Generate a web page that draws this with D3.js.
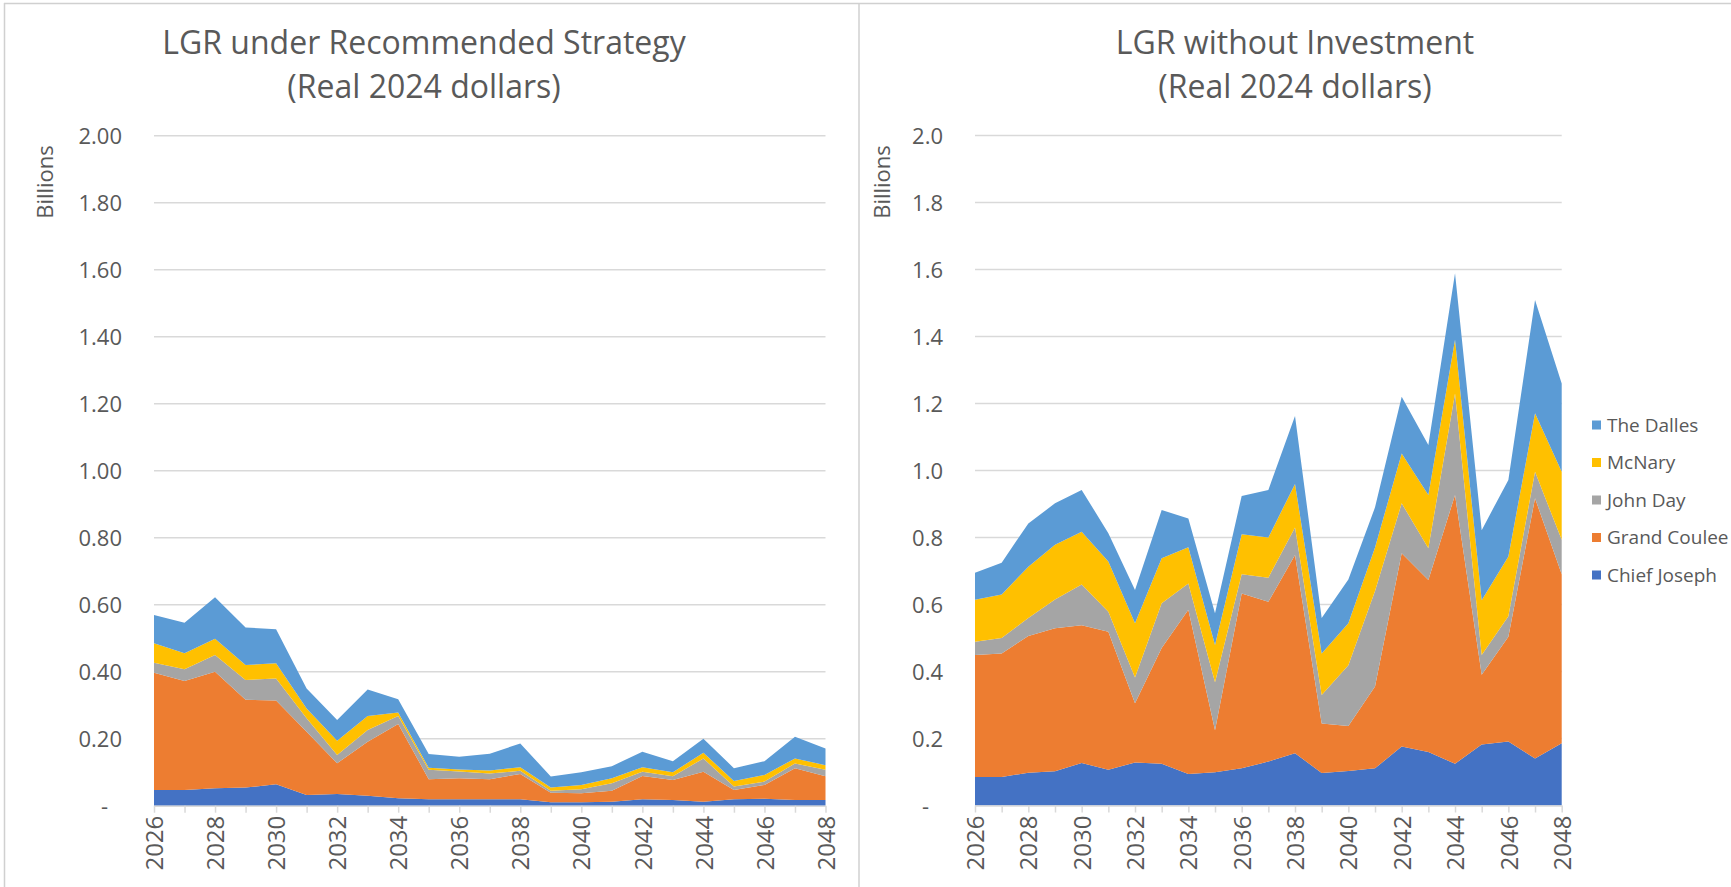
<!DOCTYPE html>
<html>
<head>
<meta charset="utf-8">
<script src="https://cdn.jsdelivr.net/npm/d3@7/dist/d3.min.js"></script>
<style>
  body { margin: 0; background: #fff; }
  svg { display: block; }
  text { font-family: "Open Sans", "Noto Sans", sans-serif; fill: #595959; }
</style>
</head>
<body>
<svg id="chart" width="1731" height="887"></svg>
<script>
// ---- Data (billions of real 2024 dollars) ----
const years = [2026, 2027, 2028, 2029, 2030, 2031, 2032, 2033, 2034, 2035, 2036, 2037,
               2038, 2039, 2040, 2041, 2042, 2043, 2044, 2045, 2046, 2047, 2048];
const yearLabels = ["2026", "2028", "2030", "2032", "2034", "2036", "2038", "2040", "2042", "2044", "2046", "2048"];

const seriesNames = ["Chief Joseph", "Grand Coulee", "John Day", "McNary", "The Dalles"];
const seriesColors = ["#4472C4", "#ED7D31", "#A5A5A5", "#FFC000", "#5B9BD5"];

// LGR under Recommended Strategy
const recChiefJoseph = [0.047, 0.047, 0.052, 0.054, 0.064, 0.032, 0.035, 0.030, 0.022, 0.019, 0.019, 0.019,
                        0.019, 0.010, 0.010, 0.012, 0.019, 0.017, 0.012, 0.019, 0.021, 0.017, 0.017];
const recGrandCoulee = [0.350, 0.325, 0.348, 0.262, 0.250, 0.189, 0.092, 0.161, 0.222, 0.060, 0.063, 0.060,
                        0.076, 0.029, 0.027, 0.033, 0.070, 0.060, 0.089, 0.028, 0.041, 0.095, 0.071];
const recJohnDay     = [0.030, 0.035, 0.050, 0.059, 0.066, 0.040, 0.024, 0.035, 0.024, 0.028, 0.020, 0.017,
                        0.009, 0.006, 0.012, 0.022, 0.012, 0.011, 0.040, 0.010, 0.010, 0.014, 0.019];
const recMcNary      = [0.058, 0.048, 0.048, 0.045, 0.045, 0.029, 0.043, 0.042, 0.010, 0.006, 0.006, 0.009,
                        0.011, 0.009, 0.013, 0.015, 0.014, 0.012, 0.017, 0.017, 0.020, 0.015, 0.014];
const recTheDalles   = [0.084, 0.091, 0.124, 0.112, 0.102, 0.060, 0.062, 0.079, 0.040, 0.041, 0.038, 0.050,
                        0.071, 0.033, 0.038, 0.036, 0.046, 0.033, 0.042, 0.038, 0.041, 0.065, 0.050];

// LGR without Investment
const noInvChiefJoseph = [0.085, 0.085, 0.098, 0.102, 0.127, 0.107, 0.128, 0.125, 0.094, 0.099, 0.111, 0.131,
                          0.156, 0.097, 0.103, 0.111, 0.176, 0.160, 0.125, 0.182, 0.191, 0.140, 0.186];
const noInvGrandCoulee = [0.364, 0.369, 0.408, 0.427, 0.411, 0.412, 0.177, 0.345, 0.490, 0.126, 0.522, 0.477,
                          0.592, 0.148, 0.134, 0.244, 0.577, 0.513, 0.802, 0.208, 0.313, 0.777, 0.504];
const noInvJohnDay     = [0.040, 0.046, 0.054, 0.086, 0.122, 0.059, 0.077, 0.134, 0.079, 0.143, 0.057, 0.072,
                          0.082, 0.085, 0.182, 0.285, 0.149, 0.095, 0.303, 0.059, 0.061, 0.079, 0.103];
const noInvMcNary      = [0.125, 0.130, 0.153, 0.163, 0.157, 0.150, 0.162, 0.134, 0.108, 0.111, 0.120, 0.120,
                          0.130, 0.124, 0.125, 0.130, 0.149, 0.159, 0.160, 0.164, 0.178, 0.175, 0.203];
const noInvTheDalles   = [0.081, 0.095, 0.129, 0.124, 0.125, 0.085, 0.099, 0.144, 0.086, 0.095, 0.114, 0.142,
                          0.203, 0.106, 0.131, 0.120, 0.169, 0.149, 0.199, 0.209, 0.229, 0.338, 0.264];

const yTicks = [0, 0.2, 0.4, 0.6, 0.8, 1.0, 1.2, 1.4, 1.6, 1.8, 2.0];

// ---- Drawing ----
const svg = d3.select("#chart");
const gridColor = "#d9d9d9";
const frameColor = "#d0d0d0";

// chart-area borders of the two panels
const frame = svg.append("g").attr("stroke", frameColor).attr("stroke-width", 1.5);
frame.append("line").attr("x1", 4).attr("x2", 1731).attr("y1", 3.5).attr("y2", 3.5);
frame.append("line").attr("x1", 4.5).attr("x2", 4.5).attr("y1", 3).attr("y2", 887);
frame.append("line").attr("x1", 859).attr("x2", 859).attr("y1", 3).attr("y2", 887);

function buildRows(cols) {
  return years.map((yr, i) => {
    const row = { year: yr };
    seriesNames.forEach((name, k) => { row[name] = cols[k][i]; });
    return row;
  });
}

function drawPanel(cfg) {
  const g = svg.append("g");
  const x = d3.scalePoint().domain(years).range([cfg.left, cfg.right]).padding(0);
  const y = d3.scaleLinear().domain([0, 2]).range([cfg.bottom, cfg.top]);

  // title
  const title = g.append("text").attr("text-anchor", "middle")
    .style("font-size", "32px");
  title.append("tspan").attr("x", cfg.titleX).attr("y", 54).text(cfg.title);
  title.append("tspan").attr("x", cfg.titleX).attr("y", 98).text("(Real 2024 dollars)");

  // gridlines
  g.append("g").selectAll("line").data(yTicks.filter(d => d > 0)).join("line")
    .attr("x1", cfg.left).attr("x2", cfg.right)
    .attr("y1", d => y(d)).attr("y2", d => y(d))
    .attr("stroke", gridColor).attr("stroke-width", 1.5);

  // stacked areas
  const rows = buildRows(cfg.series);
  const stacked = d3.stack().keys(seriesNames)(rows);
  const area = d3.area()
    .x(d => x(d.data.year))
    .y0(d => y(d[0]))
    .y1(d => y(d[1]));
  g.append("g").selectAll("path").data(stacked).join("path")
    .attr("fill", (d, i) => seriesColors[i])
    .attr("d", area);

  // y axis labels
  const yAxis = d3.axisLeft(y).tickValues(yTicks).tickSize(0).tickPadding(32)
    .tickFormat(d => d === 0 ? "-" : d3.format(cfg.fmt)(d));
  const ya = g.append("g").attr("transform", `translate(${cfg.left},0)`).call(yAxis);
  ya.select(".domain").remove();
  ya.selectAll("text")
    .style("font-size", "22px").style("font-family", "'Open Sans', sans-serif")
    .attr("fill", "#595959")
    .attr("dy", "0.36em")
    .attr("dx", d => d === 0 ? -14 : 0);

  // x axis: ticks each year, labels every other year
  const xAxis = d3.axisBottom(x).tickSize(7).tickSizeOuter(0)
    .tickFormat(d => yearLabels.includes(String(d)) ? String(d) : "");
  const xa = g.append("g").attr("transform", `translate(0,${cfg.bottom})`).call(xAxis);
  xa.select(".domain").attr("stroke", gridColor).attr("stroke-width", 1.5);
  xa.selectAll(".tick line").attr("stroke", gridColor).attr("stroke-width", 1.5);
  xa.selectAll("text")
    .style("font-size", "24px").style("font-family", "'Open Sans', sans-serif")
    .attr("fill", "#595959")
    .attr("text-anchor", "end")
    .attr("transform", "translate(0,10) rotate(-90)")
    .attr("x", 0).attr("y", 0).attr("dy", "0.36em");

  // axis title
  g.append("text")
    .attr("transform", `translate(${cfg.unitX},182) rotate(-90)`)
    .attr("text-anchor", "middle").attr("dy", "0.36em")
    .style("font-size", "22px")
    .text("Billions");

  return { x, y };
}

drawPanel({
  title: "LGR under Recommended Strategy", titleX: 424,
  left: 154, right: 825.5, top: 135.7, bottom: 805.7,
  fmt: ".2f", unitX: 45,
  series: [recChiefJoseph, recGrandCoulee, recJohnDay, recMcNary, recTheDalles]
});

drawPanel({
  title: "LGR without Investment", titleX: 1295,
  left: 975, right: 1561.7, top: 135.5, bottom: 805.5,
  fmt: ".1f", unitX: 882,
  series: [noInvChiefJoseph, noInvGrandCoulee, noInvJohnDay, noInvMcNary, noInvTheDalles]
});

// legend (top entry is the top of the stack)
const legendRows = [425, 462.5, 500, 537.5, 575];
const legend = svg.append("g");
const legendItems = legend.selectAll("g")
  .data(seriesNames.map((n, i) => ({ name: n, color: seriesColors[i] })).reverse())
  .join("g")
  .attr("transform", (d, i) => `translate(1592,${legendRows[i]})`);
legendItems.append("rect").attr("x", 0).attr("y", -4.5).attr("width", 9).attr("height", 9)
  .attr("fill", d => d.color);
legendItems.append("text").attr("x", 15).attr("dy", "0.36em")
  .style("font-size", "19px").text(d => d.name);
</script>
</body>
</html>
